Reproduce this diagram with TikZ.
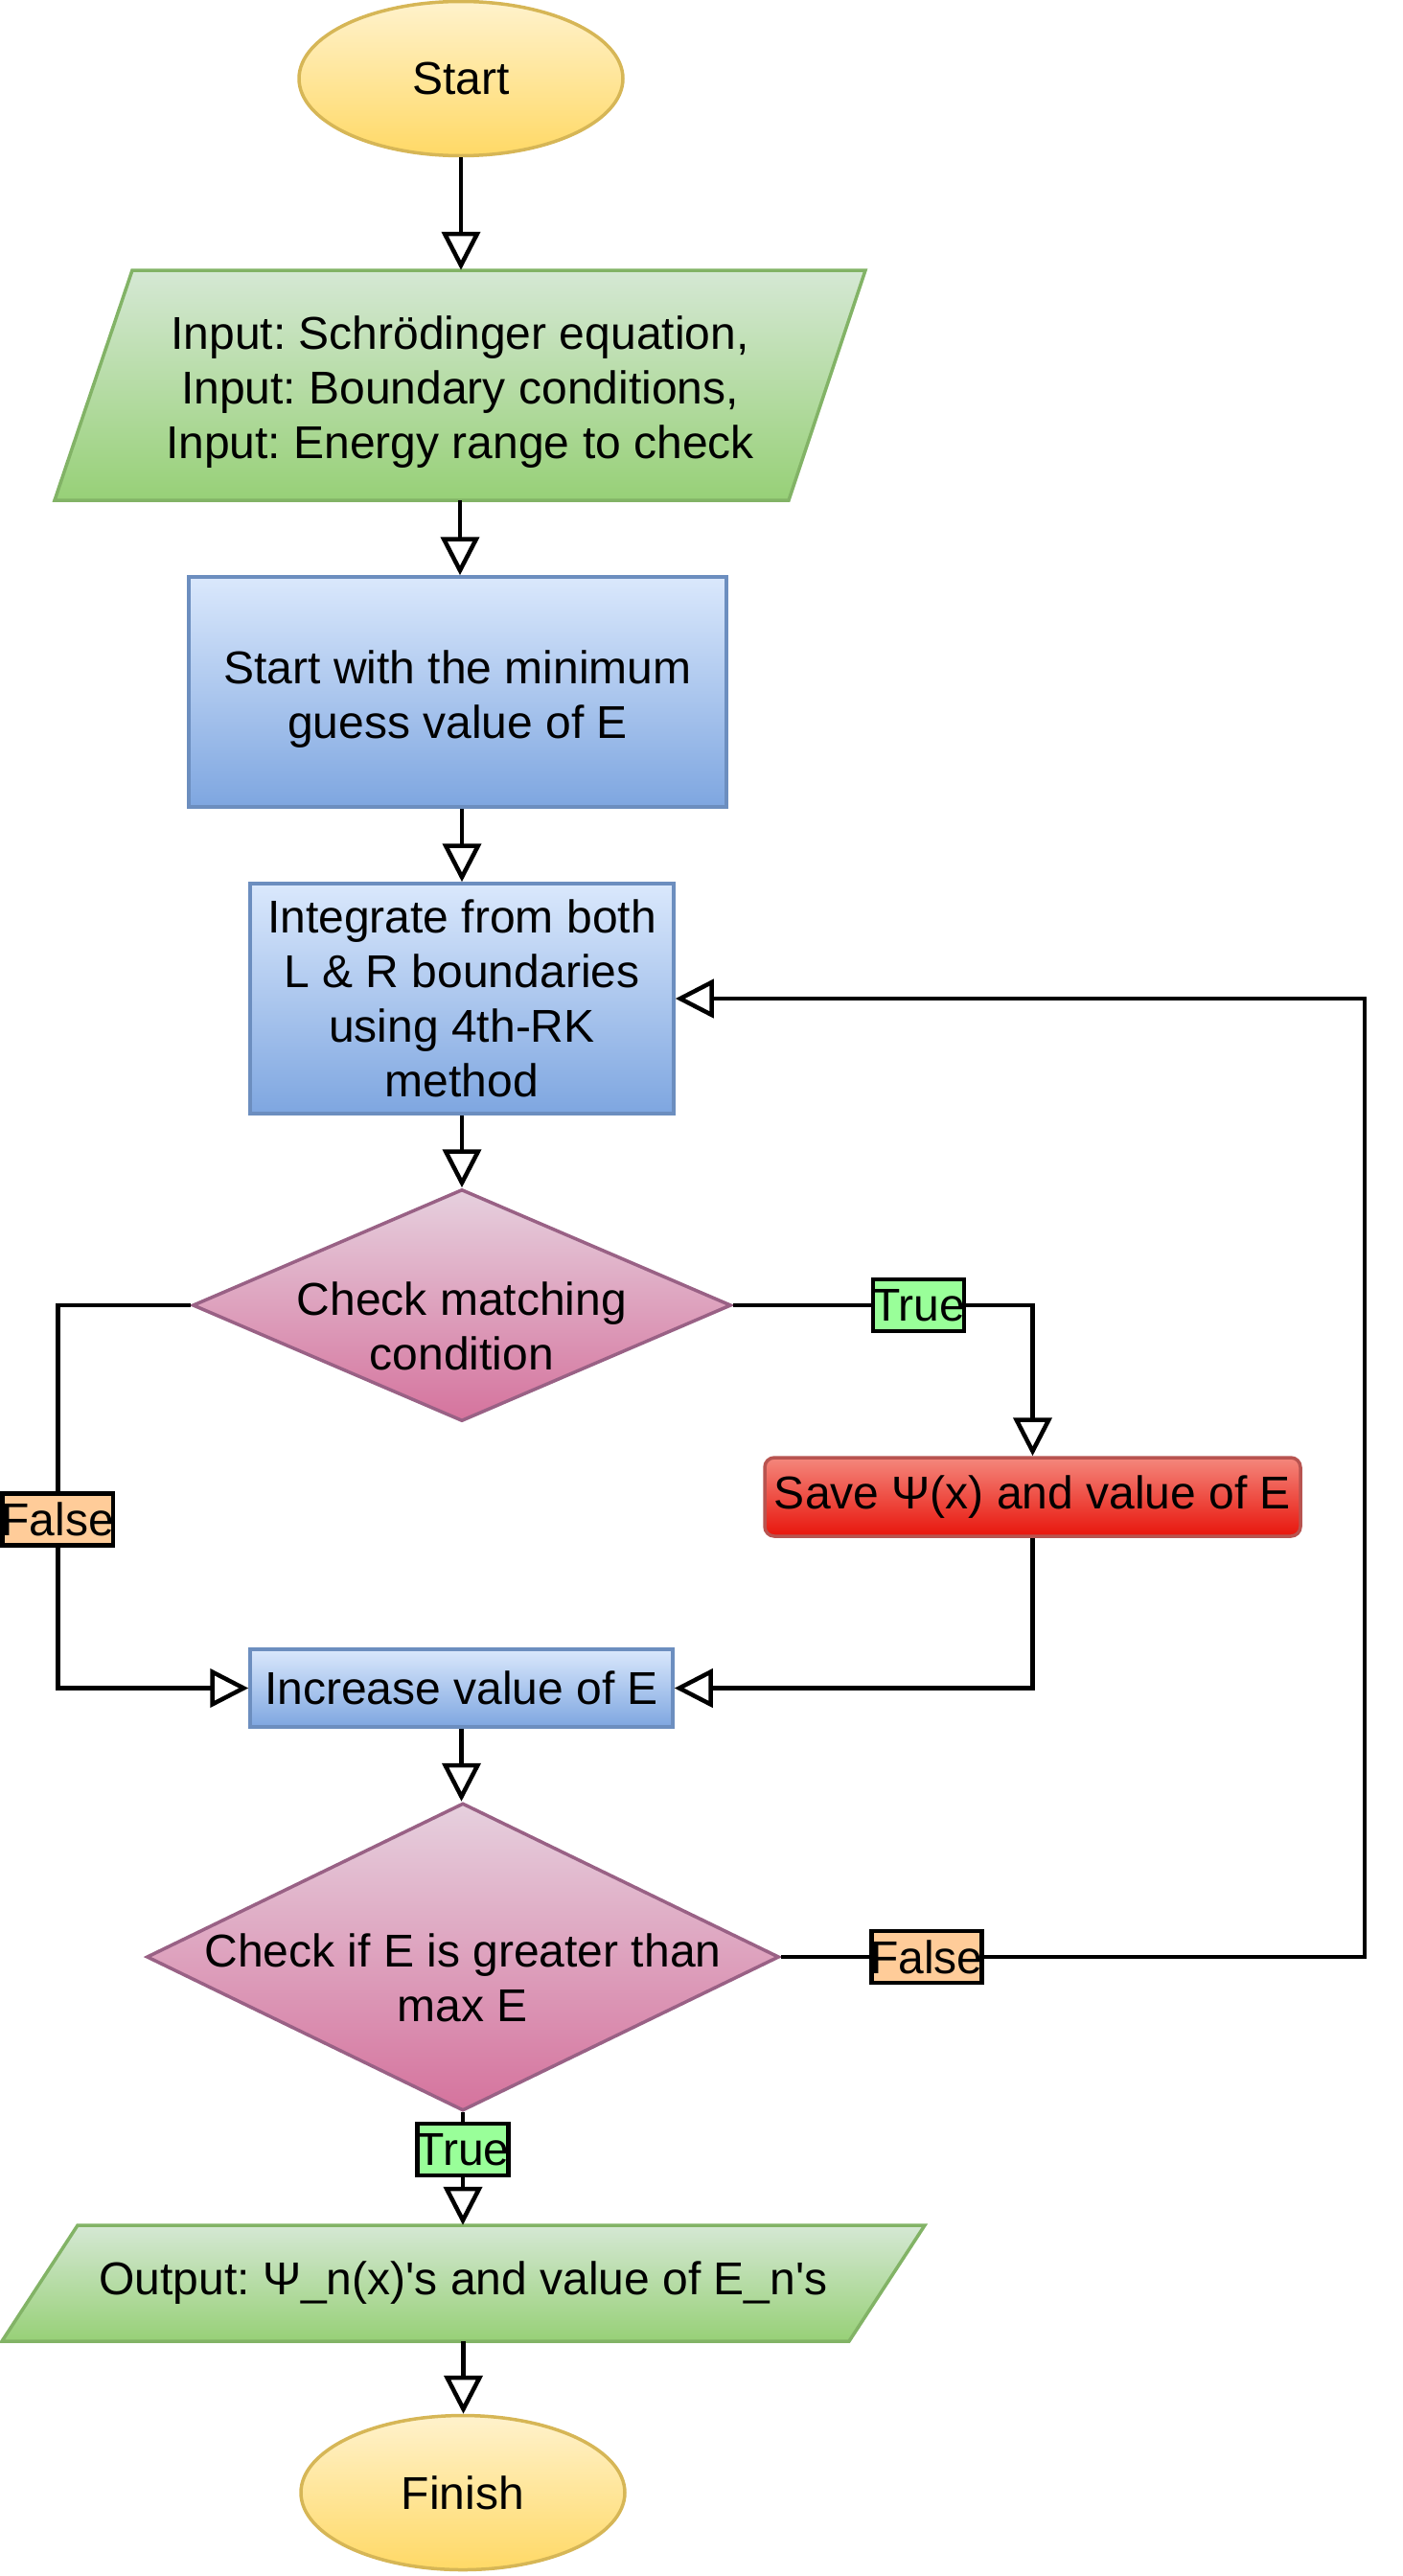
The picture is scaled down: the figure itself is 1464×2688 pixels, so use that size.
\documentclass[tikz,border=0pt]{standalone}
\usepackage{fontspec}
\newfontfamily\dfont{Liberation Sans}
\usetikzlibrary{shapes.geometric,arrows.meta}
\definecolor{yelT}{HTML}{FFF2CC}
\definecolor{yelB}{HTML}{FFD966}
\definecolor{yelD}{HTML}{D6B656}
\definecolor{grnT}{HTML}{D5E8D4}
\definecolor{grnB}{HTML}{97D077}
\definecolor{grnD}{HTML}{82B366}
\definecolor{bluT}{HTML}{DAE8FC}
\definecolor{bluB}{HTML}{7EA6E0}
\definecolor{bluD}{HTML}{6C8EBF}
\definecolor{pnkT}{HTML}{E6D0DE}
\definecolor{pnkB}{HTML}{D5739D}
\definecolor{pnkD}{HTML}{996185}
\definecolor{redT}{HTML}{F4877C}
\definecolor{redB}{HTML}{E8150C}
\definecolor{redD}{HTML}{B85450}
\definecolor{trueF}{HTML}{99FF99}
\definecolor{falseF}{HTML}{FFCC99}
\begin{document}
\frenchspacing
\begin{tikzpicture}[x=1pt,y=-1pt,
  every node/.style={font=\dfont\fontsize{48}{57}\selectfont\frenchspacing, align=center, inner sep=0pt},
  term/.style={ellipse, draw=yelD, line width=3.5pt, top color=yelT, bottom color=yelB, minimum width=338pt, minimum height=161pt},
  proc/.style={rectangle, draw=bluD, line width=3.5pt, top color=bluT, bottom color=bluB},
  dec/.style={diamond, draw=pnkD, line width=3.5pt, top color=pnkT, bottom color=pnkB},
  iobox/.style={top color=grnT, bottom color=grnB, draw=grnD, line width=3.5pt, line join=miter},
  savebox/.style={rectangle, rounded corners=10pt, draw=redD, line width=3.5pt, top color=redT, bottom color=redB},
  lbltrue/.style={draw=black, line width=4.5pt, fill=trueF, minimum height=54pt, inner xsep=-1pt},
  lblfalse/.style={draw=black, line width=4.5pt, fill=falseF, minimum height=54pt, inner xsep=-1pt},
  conn/.style={line width=4.5pt, line join=miter, -{Triangle[length=40pt,width=40pt,fill=white]}}
]
\useasboundingbox (0,0) rectangle (1464,2688);

% shapes
\node[term] (start) at (481,82) {Start};
\path[iobox] (138,282) -- (903,282) -- (823,522) -- (57,522) -- cycle;
\node[minimum height=240pt, minimum width=600pt] (in1) at (480,402) {\rule{0pt}{49pt}Input: Schrödinger equation,\\Input: Boundary conditions,\\Input: Energy range to check};
\node[proc, minimum width=561pt, minimum height=240pt] (b1) at (477.5,722) {\rule{0pt}{49pt}Start with the minimum\\guess value of E};
\node[proc, minimum width=442pt, minimum height=240pt] (b2) at (482,1042) {Integrate from both\\L \& R boundaries\\using 4th-RK\\method};
\node[dec, minimum width=562pt, minimum height=242pt] (d1) at (482,1362) {};
\node (d1t) at (482,1384) {Check matching\\condition};
\node[savebox, minimum width=559pt, minimum height=82pt] (save) at (1077.5,1562) {Save Ψ(x) and value of E};
\node[proc, minimum width=441pt, minimum height=81pt] (inc) at (481.5,1761.5) {Increase value of E};
\node[dec, minimum width=660pt, minimum height=321pt] (d2) at (483,2042) {};
\node (d2t) at (483,2064) {Check if E is greater than\\max E};
\path[iobox] (81,2322) -- (965,2322) -- (886,2443) -- (2,2443) -- cycle;
\node[minimum height=121pt, minimum width=800pt] (out) at (483.5,2382.5) {Output: Ψ\_n(x)'s and value of E\_n's};
\node[term] (fin) at (483,2601) {Finish};

% connectors
\draw[conn] (start.south) -- (start.south |- in1.north);
\draw[conn] (in1.south) -- (in1.south |- b1.north);
\draw[conn] (b2.north |- b1.south) -- (b2.north);
\draw[conn] (b2.south) -- (b2.south |- d1.north);
\draw[conn] (d1.west) -- ++(-139,0) |- node[lblfalse, pos=0.28] (f1) {False} (inc.west);
\draw[conn] (d1.east) -| node[lbltrue, pos=0.31] (t1) {True} (save.north);
\draw[conn] (save.south) |- (inc.east);
\draw[conn] (inc.south) -- (inc.south |- d2.north);
\draw[conn] (d2.east) -- node[lblfalse, pos=0.25] (f2) {False} ++(609,0) |- (b2.east);
\draw[conn] (d2.south) -- node[lbltrue, pos=0.33] (t2) {True} (d2.south |- out.north);
\draw[conn] (out.south) -- (out.south |- fin.north);
\end{tikzpicture}
\end{document}
